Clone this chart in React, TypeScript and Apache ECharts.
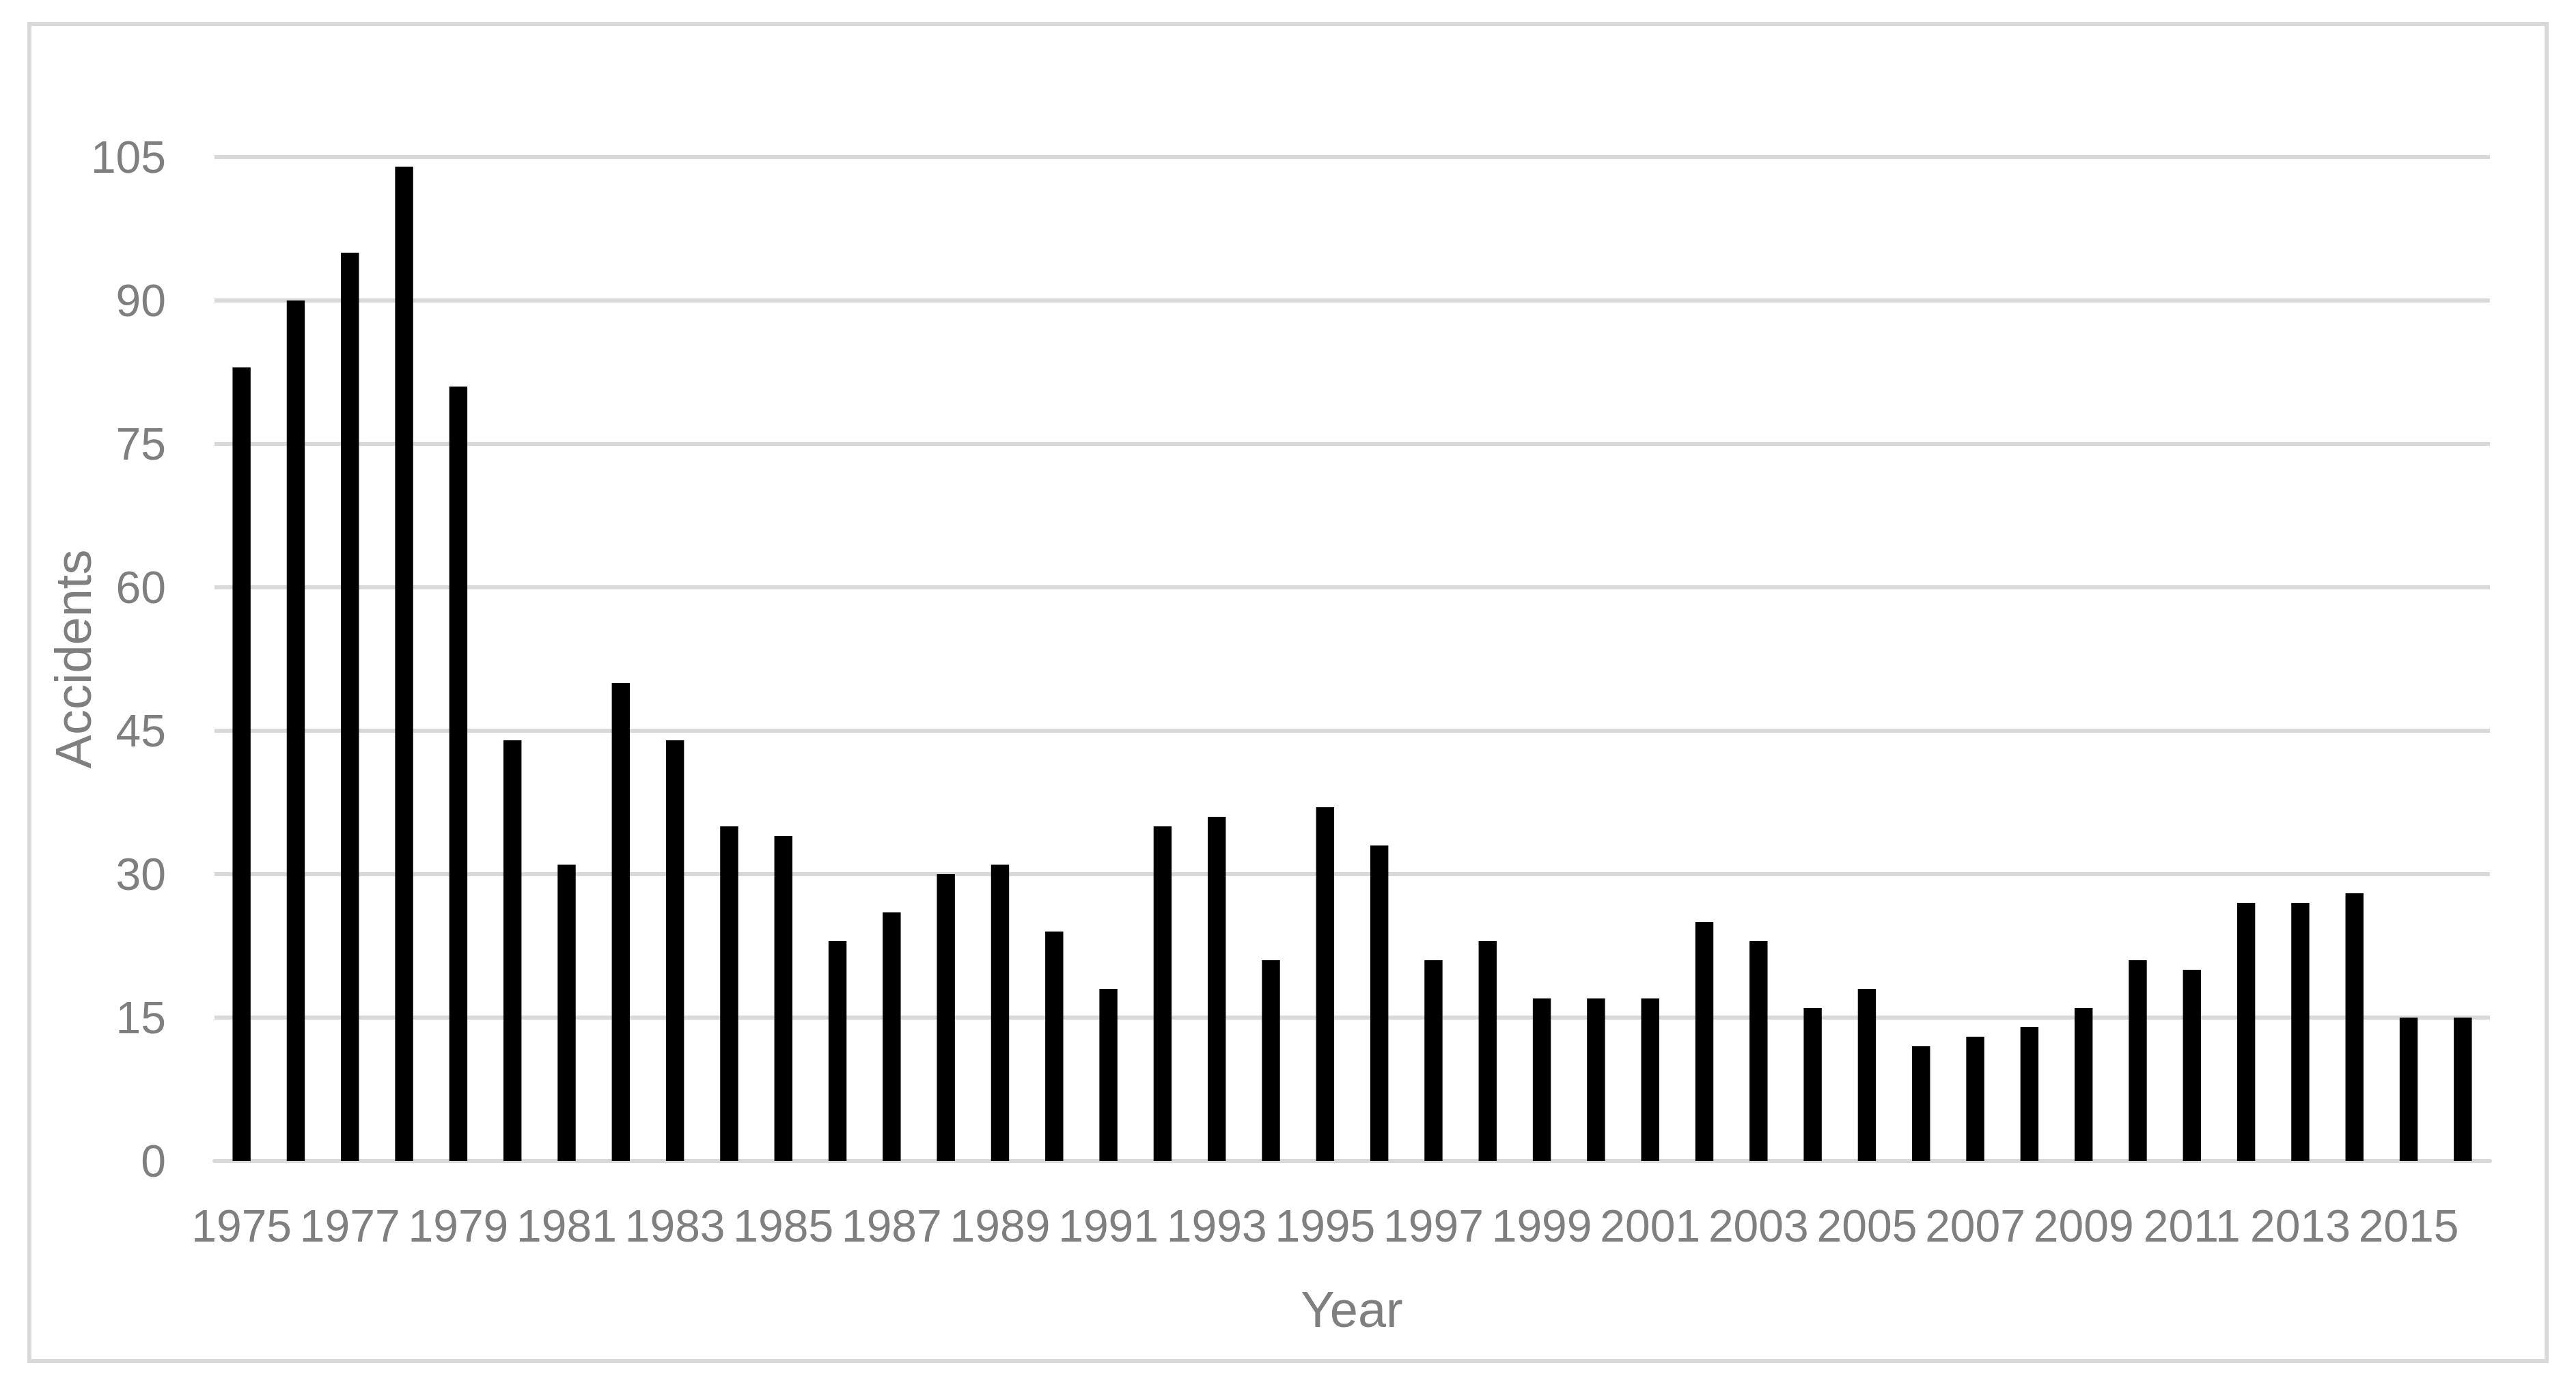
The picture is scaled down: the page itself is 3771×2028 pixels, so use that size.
import React, { useEffect, useRef } from "react";
import * as echarts from "echarts";

const years: string[] = [
  "1975", "1976", "1977", "1978", "1979", "1980", "1981", "1982", "1983", "1984",
  "1985", "1986", "1987", "1988", "1989", "1990", "1991", "1992", "1993", "1994",
  "1995", "1996", "1997", "1998", "1999", "2000", "2001", "2002", "2003", "2004",
  "2005", "2006", "2007", "2008", "2009", "2010", "2011", "2012", "2013", "2014",
  "2015", "2016",
];
const accidents: number[] = [
  83, 90, 95, 104, 81, 44, 31, 50, 44, 35,
  34, 23, 26, 30, 31, 24, 18, 35, 36, 21,
  37, 33, 21, 23, 17, 17, 17, 25, 23, 16,
  18, 12, 13, 14, 16, 21, 20, 27, 27, 28,
  15, 15,
];
const yMin = 0;
const yMax = 105;
const yStep = 15;
const xTitle = "Year";
const yTitle = "Accidents";

const W = 3771;
const H = 2028;
const FONT = "'Liberation Sans', Arial, sans-serif";
const GRAY = "#7f7f7f";
const LINE = "#d9d9d9";

export default function App() {
  const ref = useRef<HTMLDivElement>(null);
  useEffect(() => {
    document.body.style.margin = "0";
    if (!ref.current) return;
    const chart = echarts.init(ref.current, undefined, { renderer: "svg" });
    chart.setOption({
      animation: false,
      backgroundColor: "#ffffff",
      grid: { left: 314, right: 126, top: 230, bottom: 328, containLabel: false },
      xAxis: {
        type: "category",
        data: years,
        axisLine: { show: true, lineStyle: { color: LINE, width: 6 } },
        axisTick: { show: false },
        axisLabel: {
          interval: 1,
          color: GRAY,
          fontFamily: FONT,
          fontSize: 66,
          margin: 62,
        },
        splitLine: { show: false },
      },
      yAxis: {
        type: "value",
        min: yMin,
        max: yMax,
        interval: yStep,
        axisLine: { show: false },
        axisTick: { show: false },
        axisLabel: {
          color: GRAY,
          fontFamily: FONT,
          fontSize: 66,
          margin: 71,
        },
        splitLine: { show: true, lineStyle: { color: LINE, width: 6 } },
      },
      series: [
        {
          type: "bar",
          data: accidents,
          barWidth: "33.3%",
          itemStyle: { color: "#000000" },
        },
      ],
      graphic: [
        {
          type: "rect",
          shape: { x: 43, y: 35, width: 3685, height: 1958 },
          style: { fill: "none", stroke: LINE, lineWidth: 6 },
          z: -1,
        },
        {
          type: "text",
          x: 1979,
          y: 1917,
          style: {
            text: xTitle,
            fill: GRAY,
            font: `74px ${FONT}`,
            textAlign: "center",
            textVerticalAlign: "middle",
          },
        },
        {
          type: "text",
          x: 107,
          y: 965,
          rotation: Math.PI / 2,
          style: {
            text: yTitle,
            fill: GRAY,
            font: `74px ${FONT}`,
            textAlign: "center",
            textVerticalAlign: "middle",
          },
        },
      ],
    });
    return () => chart.dispose();
  }, []);
  return <div ref={ref} style={{ width: W, height: H }} />;
}
